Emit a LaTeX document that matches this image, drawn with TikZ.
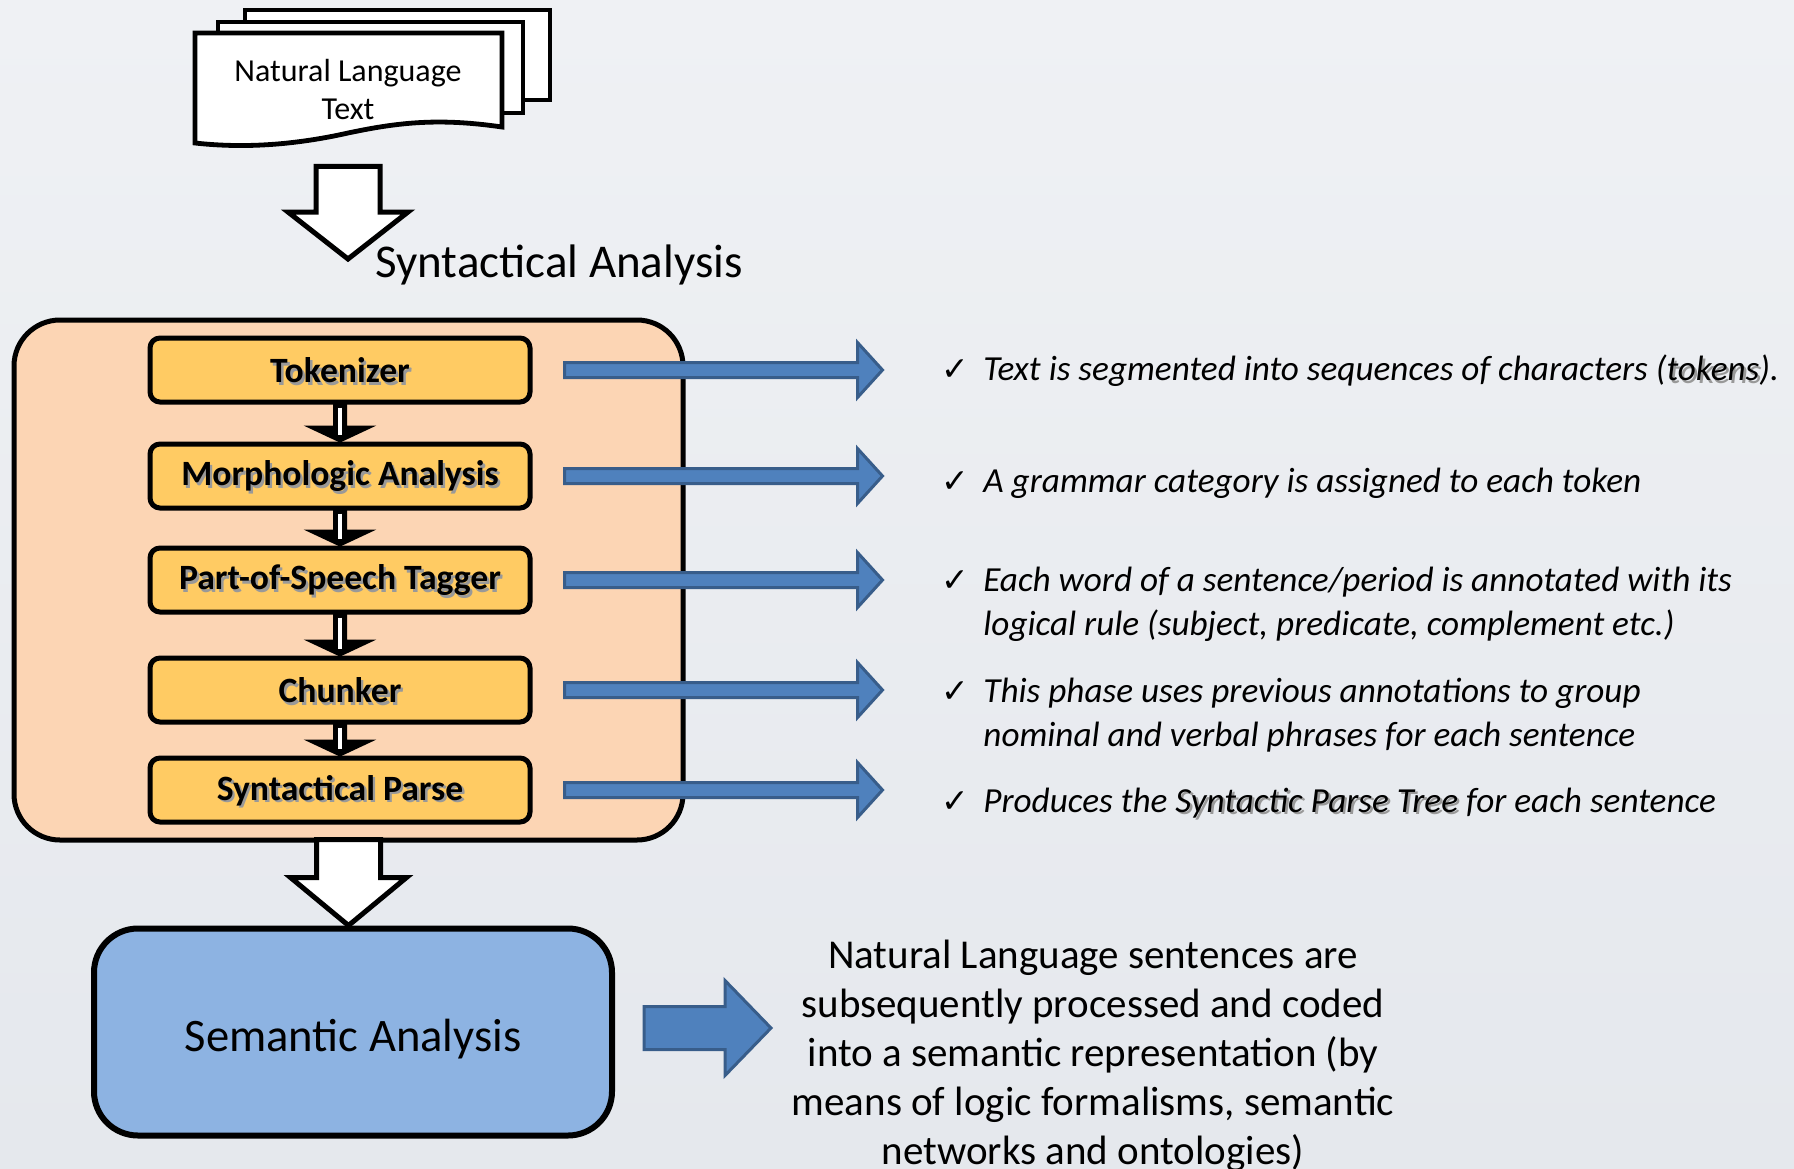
\documentclass[tikz,border=0pt]{standalone}
\usepackage{fontspec}
\setmainfont{Carlito}
\newfontfamily\symfont{DejaVu Sans}
\usetikzlibrary{calc}
\definecolor{peach}{RGB}{252,213,180}
\definecolor{gold}{RGB}{255,203,99}
\definecolor{semblue}{RGB}{141,179,226}
\definecolor{arrowblue}{RGB}{79,129,189}
\definecolor{arrowedge}{RGB}{56,93,138}
\definecolor{bgtop}{RGB}{239,241,244}
\definecolor{bgbot}{RGB}{229,232,237}
\newcommand{\shadowed}[1]{\rlap{\hspace{1.2pt}\raisebox{-1.2pt}{\color{black!40}#1}}#1}
\newcommand{\ck}{\llap{{\symfont\upshape\fontsize{16.5}{16.5}\selectfont ✓}\hspace{7pt}}}

\begin{document}
\begin{tikzpicture}
  [x=0.5pt,y=-0.5pt,
   page/.style={draw,line width=2.4pt,fill=white},
   doctext/.style={align=center,minimum width=153pt,minimum height=50pt,inner sep=0pt,font=\fontsize{16}{19}\selectfont},
   biglabel/.style={inner sep=0pt,font=\fontsize{23.5}{28}\selectfont},
   bigarrow/.style={draw,line width=2.5pt,fill=white},
   stagebox/.style={draw,line width=2.5pt,fill=peach,rounded corners=23pt,minimum width=334.5pt,minimum height=260pt},
   stepbox/.style={draw,line width=2.5pt,fill=gold,rounded corners=5pt,minimum width=190pt,minimum height=32pt,inner sep=0pt,text height=14pt,font=\fontsize{17.8}{20}\selectfont\bfseries},
   minidown/.style={draw,line width=1pt,fill=black},
   minishaft/.style={white,line width=2pt},
   bluearrow/.style={draw=arrowedge,line width=1.5pt,fill=arrowblue},
   bullet/.style={anchor=west,inner sep=0pt,align=left,font=\fontsize{17.6}{21.8}\selectfont\itshape},
   sembox/.style={draw,line width=3pt,fill=semblue,rounded corners=22pt,minimum width=259pt,minimum height=103.5pt,text height=23.5pt,font=\fontsize{23.3}{28}\selectfont},
   para/.style={align=center,inner sep=0pt,font=\fontsize{20.5}{24.5}\selectfont}]

  \useasboundingbox (0,0) rectangle (1794,1168);
  \shade[top color=bgtop,bottom color=bgbot] (0,0) rectangle (1794,1168);

  \draw[page] (245,10) rectangle (550,100);
  \draw[page] (218,22) rectangle (523,113);
  \draw[page] (195,33) -- (502,33) -- (502,127) .. controls (440,118) and (400,122) .. (348,133)
    .. controls (290,146) and (240,148) .. (195,143) -- cycle;
  \node[doctext] (doc) at (348,90) {Natural Language\\Text};

  \coordinate (synin) at (348,259);
  \draw[bigarrow] ($(doc.south)+(-32,26)$) -- ($(synin)+(-32,-47)$) -- ($(synin)+(-60,-47)$) -- (synin)
    -- ($(synin)+(60,-47)$) -- ($(synin)+(32,-47)$) -- ($(doc.south)+(32,26)$) -- cycle;
  \node[biglabel,anchor=west] (synlabel) at (375,265) {Syntactical Analysis};

  \node[stagebox] (synbox) at (348.5,580) {};
  \foreach \n/\y/\t in {tok/370/Tokenizer,morph/476/Morphologic Analysis,pos/580/Part-of-Speech Tagger,chunk/690/Chunker,parse/790/Syntactical Parse}
    \node[stepbox] (\n) at (340,\y) {\shadowed{\t}};

  \foreach \a/\b in {tok/morph,morph/pos,pos/chunk,chunk/parse}
  {
    \draw[minidown] ($(\a.south)+(-6,0)$) -- ($(\b.north)+(-6,-15)$) -- ($(\b.north)+(-32,-15)$) -- (\b.north)
      -- ($(\b.north)+(32,-15)$) -- ($(\b.north)+(6,-15)$) -- ($(\a.south)+(6,0)$) -- cycle;
    \draw[minishaft] ($(\a.south)+(0,3)$) -- ($(\b.north)+(0,-7)$);
  }

  \foreach \n in {tok,morph,pos,chunk,parse}
    \draw[bluearrow] ($(\n.east)+(32,-7.5)$) -- ($(\n.east)+(325,-7.5)$) -- ($(\n.east)+(325,-27.5)$) -- ($(\n.east)+(350,0)$)
      -- ($(\n.east)+(325,27.5)$) -- ($(\n.east)+(325,7.5)$) -- ($(\n.east)+(32,7.5)$) -- cycle;

  \node[bullet] (b1) at (983,371) {\ck Text is segmented into sequences of characters (\shadowed{tokens}).};
  \node[bullet] (b2) at (983,483) {\ck A grammar category is assigned to each token};
  \node[bullet] (b3) at (983,604) {\ck Each word of a sentence/period is annotated with its\\logical rule (subject, predicate, complement etc.)};
  \node[bullet] (b4) at (983,715) {\ck This phase uses previous annotations to group\\nominal and verbal phrases for each sentence};
  \node[bullet] (b5) at (983,804) {\ck Produces the \shadowed{Syntactic Parse Tree} for each sentence};

  \node[sembox] (sem) at (353,1032) {Semantic Analysis};
  \coordinate (semin) at (sem.north -| synbox.south);
  \draw[bigarrow] ($(synbox.south)+(-32,-3)$) -- ($(semin)+(-32,-48)$) -- ($(semin)+(-58,-48)$) -- (semin)
    -- ($(semin)+(58,-48)$) -- ($(semin)+(32,-48)$) -- ($(synbox.south)+(32,-3)$) -- cycle;

  \draw[bluearrow] ($(sem.east)+(29,-25.5)$) -- ($(sem.east)+(110,-25.5)$) -- ($(sem.east)+(110,-51.5)$) -- ($(sem.east)+(156,-4)$)
    -- ($(sem.east)+(110,43.5)$) -- ($(sem.east)+(110,17.5)$) -- ($(sem.east)+(29,17.5)$) -- cycle;
  \node[para] (semtext) at (1093,1055.5) {Natural Language sentences are\\subsequently processed and coded\\into a semantic representation (by\\means of logic formalisms, semantic\\networks and ontologies)};

\end{tikzpicture}
\end{document}
